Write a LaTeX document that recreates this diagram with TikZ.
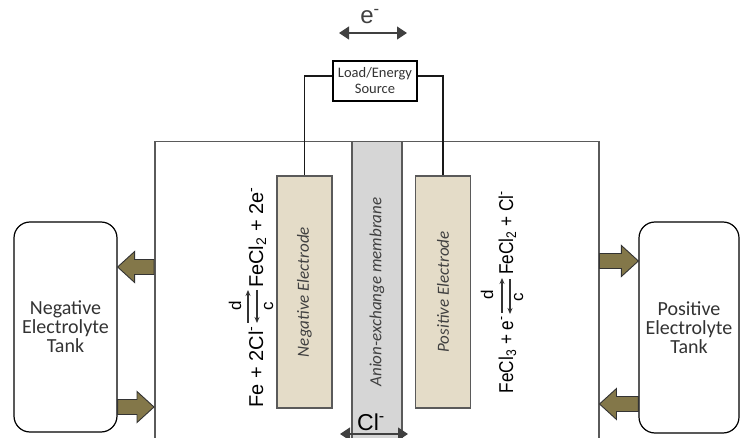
\documentclass[tikz,border=0pt]{standalone}
\usepackage{fontspec}
\setmainfont{Carlito}
\newfontfamily\arialf{Liberation Sans}
\usetikzlibrary{arrows.meta,calc}
\definecolor{electan}{HTML}{E4DCC8}
\definecolor{olivea}{HTML}{837749}
\definecolor{memgray}{HTML}{D6D6D6}
\definecolor{linegray}{HTML}{5A5A5A}
\newcommand\barrow[2]{%
  \path #1 coordinate (baT) #2 coordinate (baH);
  \draw[blockarr] ($(baT)+(0,-7.5)$) -- ($(baH)!17pt!(baT)+(0,-7.5)$) --
    ($(baH)!17pt!(baT)+(0,-15.5)$) -- (baH) -- ($(baH)!17pt!(baT)+(0,15.5)$) --
    ($(baH)!17pt!(baT)+(0,7.5)$) -- ($(baT)+(0,7.5)$) -- cycle;}
\begin{document}
\begin{tikzpicture}[x=1pt,y=-1pt,
  electrode/.style={draw=linegray,line width=1.2pt,fill=electan,minimum width=55pt,minimum height=232pt,inner sep=0pt},
  rotlabel/.style={rotate=90,font=\itshape\fontsize{17}{20}\selectfont,text=black!75,inner sep=0pt},
  wire/.style={draw=black!90,line width=1.7pt},
  tank/.style={draw=black,line width=1.2pt,rounded corners=16pt,fill=white,align=center,
    font=\fontsize{20}{19}\selectfont,text=black!80,inner sep=0pt},
  blockarr/.style={draw=black!80,line width=0.9pt,fill=olivea,line join=miter},
  rx/.style={rotate=90,font=\arialf\fontsize{20}{24}\selectfont,inner sep=0pt},
  rxr/.style={rotate=90,xscale=0.86,font=\arialf\fontsize{20}{24}\selectfont,inner sep=0pt},
  rsmall/.style={rotate=90,font=\arialf\fontsize{17}{20}\selectfont,inner sep=0pt},
  rarrow/.style={draw=black!80,line width=1.1pt,-{Stealth[length=6pt,width=5pt]}},
  dblarrow/.style={draw=black!75,line width=1.2pt,{Triangle[length=10pt,width=13pt]}-{Triangle[length=10pt,width=13pt]}}]
\useasboundingbox (0,0) rectangle (740,438);
\clip (0,0) rectangle (740,438);
% cell
\node[draw=linegray,line width=1.5pt,minimum width=444pt,minimum height=330pt,anchor=north west,inner sep=0pt] (cell) at (154,141) {};
% membrane
\node[draw=linegray,line width=1.2pt,fill=memgray,minimum width=50pt,minimum height=330pt,anchor=north,inner sep=0pt] (mem) at (377,141) {};
\node[rotlabel] (memlabel) at (377,292) {Anion-exchange membrane};
% electrodes
\node[electrode] (negel) at (304.5,292) {};
\node[rotlabel] (neglabel) at (negel.center) {Negative Electrode};
\node[electrode] (posel) at (443,292) {};
\node[rotlabel] (poslabel) at (posel.center) {Positive Electrode};
% load
\node[draw=black,line width=1.2pt,fill=white,minimum width=84pt,minimum height=40pt,align=center,
  font=\fontsize{14.5}{16}\selectfont,text=black!80,inner sep=0pt] (load) at (375,81) {Load/Energy\\Source};
\draw[wire] ([yshift=5pt]load.west) -| (negel.north);
\draw[wire] ([yshift=5pt]load.east) -| (posel.north);
% electron arrow
\coordinate (ea) at (339,33);
\coordinate (eb) at (407,33);
\draw[dblarrow] (ea) -- (eb);
\node[font=\arialf\fontsize{24}{28}\selectfont,text=black!75,inner sep=0pt] (elabel) at (370,17) {e\textsuperscript{-}};
% chloride arrow
\coordinate (ca) at (340,434);
\coordinate (cb) at (408,434);
\draw[dblarrow] (ca) -- (cb);
\node[font=\arialf\fontsize{23}{26}\selectfont,inner sep=0pt,anchor=base] (cllabel) at (371,431) {Cl\textsuperscript{-}};
% tanks
\node[tank,minimum width=103pt,minimum height=210pt] (negtank) at (65.5,327) {Negative\\Electrolyte\\Tank};
\node[tank,minimum width=100pt,minimum height=211pt] (postank) at (689,327.5) {Positive\\Electrolyte\\Tank};
% flow arrows
\coordinate (ya) at (0,267);
\coordinate (yb) at (0,407);
\coordinate (yc) at (0,261);
\coordinate (yd) at (0,404);
\barrow{(cell.west |- ya)}{(negtank.east |- ya)}
\barrow{(negtank.east |- yb)}{(cell.west |- yb)}
\barrow{(cell.east |- yc)}{(postank.west |- yc)}
\barrow{(postank.west |- yd)}{(cell.east |- yd)}
% left reaction
\node[rx,anchor=base east] (r1a) at (263,326) {Fe + 2Cl\textsuperscript{-}};
\node[rx,anchor=base west] (r1b) at (263,288) {FeCl\textsubscript{2} + 2e\textsuperscript{-}};
\coordinate (r1u0) at (248,323);
\coordinate (r1u1) at (248,290);
\coordinate (r1d0) at (257,290);
\coordinate (r1d1) at (257,323);
\draw[rarrow] (r1u0) -- (r1u1);
\draw[rarrow] (r1d0) -- (r1d1);
\node[rsmall,anchor=base] (r1d) at (241,306) {d};
\node[rsmall,anchor=base] (r1c) at (273,306) {c};
% right reaction
\node[rxr,anchor=base east] (r2a) at (513,316) {FeCl\textsubscript{3} + e\textsuperscript{-}};
\node[rxr,anchor=base west] (r2b) at (513,275) {FeCl\textsubscript{2} + Cl\textsuperscript{-}};
\coordinate (r2u0) at (502,313);
\coordinate (r2u1) at (502,278);
\coordinate (r2d0) at (510,279);
\coordinate (r2d1) at (510,314);
\draw[rarrow] (r2u0) -- (r2u1);
\draw[rarrow] (r2d0) -- (r2d1);
\node[rsmall,anchor=base] (r2d) at (493,295) {d};
\node[rsmall,anchor=base] (r2c) at (523,297) {c};
\end{tikzpicture}
\end{document}
